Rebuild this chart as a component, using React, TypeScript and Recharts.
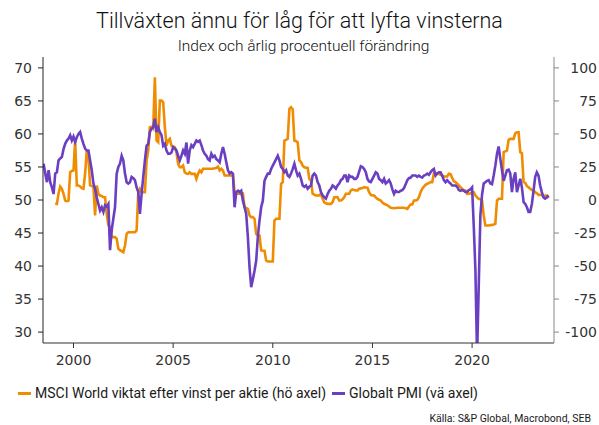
import React from 'react';
import { LineChart, Line, XAxis, YAxis } from 'recharts';

// Monthly observations, first month = July 1998
const START_YEAR = 1998.5;
const EPS_OFFSET = 7; // EPS series starts 7 months later (Feb 1999)

// Globalt PMI (left axis)
const pmi = [
  55.5, 54.0, 52.7, 54.5, 52.7, 51.9, 50.9, 54.0, 54.2, 56.0, 56.3, 56.5,
  57.7, 58.5, 59.0, 59.3, 59.8, 59.0, 59.6, 58.8, 59.5, 60.0, 60.3, 59.3,
  58.5, 57.8, 57.5, 57.5, 56.0, 54.5, 52.5, 51.7, 50.4, 49.4, 48.4, 48.9,
  48.2, 49.2, 49.0, 49.4, 42.4, 45.4, 47.2, 48.9, 54.0, 55.0, 55.5, 56.7,
  56.0, 54.0, 52.7, 52.5, 52.7, 53.5, 53.3, 53.0, 51.9, 51.2, 47.9, 50.9,
  53.5, 56.0, 58.2, 58.5, 60.3, 60.8, 61.0, 62.3, 60.3, 61.0, 60.3, 59.8,
  58.2, 58.5, 57.5, 57.0, 57.0, 57.2, 58.0, 57.8, 57.5, 56.7, 56.0, 56.7,
  57.5, 57.0, 58.7, 55.5, 57.5, 58.3, 58.0, 58.5, 59.0, 58.8, 59.0, 58.3,
  57.5, 57.0, 56.7, 56.2, 56.0, 57.0, 56.5, 56.7, 56.2, 56.0, 55.7, 57.0,
  58.0, 57.0, 55.7, 54.5, 54.0, 54.2, 54.0, 48.9, 51.2, 51.4, 51.2, 51.4,
  49.9, 48.9, 47.9, 44.4, 39.8, 36.8, 38.0, 39.3, 40.8, 44.4, 46.9, 48.9,
  49.9, 52.9, 53.5, 54.0, 54.0, 54.7, 55.2, 55.7, 56.2, 56.7, 56.0, 55.0,
  54.7, 54.2, 54.5, 53.7, 53.5, 54.0, 54.7, 55.5, 54.5, 53.7, 54.0, 53.2,
  52.2, 52.0, 52.2, 51.7, 52.0, 52.2, 53.7, 54.0, 53.7, 52.7, 52.2, 51.2,
  50.7, 50.4, 50.2, 50.9, 51.4, 51.7, 52.2, 52.0, 51.7, 52.2, 52.5, 53.0,
  53.2, 53.7, 53.7, 52.7, 53.7, 53.5, 53.5, 53.2, 53.2, 53.5, 54.3, 55.1,
  55.0, 54.7, 54.2, 53.2, 52.8, 52.7, 53.2, 53.7, 54.2, 54.0, 53.2, 53.0,
  52.7, 53.2, 52.5, 52.7, 53.0, 52.5, 51.6, 50.9, 51.4, 51.2, 51.2, 51.4,
  51.5, 51.8, 52.4, 53.0, 53.3, 53.4, 53.7, 53.7, 53.7, 53.5, 53.7, 53.5,
  53.4, 53.7, 53.8, 54.0, 53.8, 54.2, 54.5, 54.7, 53.7, 54.0, 54.2, 54.2,
  53.7, 53.0, 52.7, 53.0, 52.7, 52.5, 52.2, 52.2, 52.2, 52.0, 51.5, 51.4,
  51.5, 51.4, 51.2, 51.2, 51.5, 51.6, 51.9, 46.1, 39.4, 26.2, 37.0, 47.7,
  50.8, 52.5, 52.7, 52.9, 53.0, 52.5, 52.4, 53.7, 55.2, 57.0, 58.1, 56.2,
  54.5, 52.9, 53.7, 54.5, 54.6, 54.0, 51.2, 53.2, 54.2, 51.2, 52.2, 53.2,
  51.9, 49.7, 49.4, 48.9, 48.2, 48.2, 49.4, 51.4, 53.5, 54.2, 53.7, 52.2,
  51.2, 50.4, 50.2, 50.4, 50.7,
];

// MSCI World viktat efter vinst per aktie, årlig % (right axis)
const eps = [
  -2.5, -3.0, 5.0, 10.2, 8.5, 4.7, -0.4, -0.9, -0.4, 21.0, 22.0, 22.3,
  45.0, 11.0, 11.0, 10.2, 9.0, 8.5, 20.0, 37.4, 32.4, 11.0, 10.5, 10.2,
  -11.7, 11.0, 4.7, 3.4, 3.0, 2.1, 2.1, -10.4, -19.3, -20.6, -28.1, -28.1,
  -28.1, -29.3, -36.9, -38.0, -38.7, -39.5, -34.4, -25.6, -24.4, -24.4, -24.4, -24.4,
  -24.4, -23.1, 5.9, 8.5, 5.9, 5.9, 5.9, 29.9, 37.4, 55.1, 55.5, 54.0,
  92.9, 45.0, 43.7, 75.3, 75.3, 74.0, 55.1, 41.2, 45.0, 46.3, 41.2, 40.5,
  39.9, 36.1, 27.4, 24.8, 24.8, 26.1, 21.0, 20.0, 19.8, 21.0, 19.8, 19.8,
  19.8, 16.0, 19.8, 22.3, 21.0, 23.6, 23.6, 23.6, 23.6, 23.6, 23.6, 23.6,
  24.0, 24.3, 25.3, 22.3, 23.6, 22.3, 18.5, 18.5, 18.5, 18.5, 18.5, 18.5,
  5.9, 5.0, 4.7, 4.7, 4.3, 4.7, -5.4, -6.0, -6.7, -11.7, -13.0, -13.0,
  -14.2, -25.6, -26.9, -26.9, -38.2, -38.4, -38.4, -45.8, -46.5, -46.5, -46.5, -46.5,
  -15.5, -14.2, -14.2, -14.2, 12.3, 13.5, 45.0, 45.5, 46.3, 69.0, 70.2, 68.5,
  45.0, 44.5, 43.7, 29.9, 28.7, 26.0, 24.8, 24.5, 24.3, 16.0, 14.7, 4.7,
  4.0, 3.4, 3.4, 3.4, 4.7, 1.0, -1.7, -2.5, -2.9, -2.9, -2.9, -1.7,
  2.1, 2.1, 2.1, -0.4, -0.4, 0.5, 2.1, 4.7, 4.7, 4.7, 7.2, 8.0,
  7.5, 7.2, 7.2, 8.5, 8.8, 9.0, 9.7, 9.5, 9.3, 5.9, 3.9, 3.5,
  3.4, 2.0, 0.9, 0.2, -0.4, -2.0, -2.9, -3.4, -4.0, -4.9, -5.9, -6.0,
  -6.2, -6.0, -5.9, -5.9, -5.9, -5.9, -5.9, -6.3, -6.7, -4.9, -3.4, -3.4,
  -0.4, -0.4, 0.1, 2.1, 5.9, 8.5, 10.2, 11.5, 12.3, 12.8, 13.5, 13.5,
  20.3, 20.3, 20.3, 19.8, 19.0, 18.5, 17.8, 17.8, 17.8, 19.8, 19.5, 16.8,
  14.2, 13.5, 12.3, 11.0, 9.7, 8.5, 7.2, 7.2, 4.7, 4.8, 5.0, 5.9,
  5.9, 3.4, 2.0, 0.9, 0.5, -0.4, -11.7, -19.3, -19.3, -19.3, -19.0, -18.9,
  -18.5, -18.0, -0.4, 0.9, 0.9, 0.9, 36.2, 36.8, 37.4, 45.5, 46.3, 46.3,
  46.3, 50.5, 51.3, 51.3, 36.2, 35.4, 13.5, 13.0, 10.5, 9.7, 8.5, 7.5,
  7.2, 5.9, 5.0, 3.9, 3.9, 3.9, 2.6, 3.4, 3.4, 1.4,
];

const yearTicks = [2000, 2005, 2010, 2015, 2020];
const pmiTicks = [30, 35, 40, 45, 50, 55, 60, 65, 70];
const epsTicks = [-100, -75, -50, -25, 0, 25, 50, 75, 100];

const title = 'Tillväxten ännu för låg för att lyfta vinsterna';
const subtitle = 'Index och årlig procentuell förändring';
const epsName = 'MSCI World viktat efter vinst per aktie (hö axel)';
const pmiName = 'Globalt PMI (vä axel)';
const source = 'Källa: S&P Global, Macrobond, SEB';

const ORANGE = '#F08C00';
const PURPLE = '#6A3FC1';

const data = pmi.map((v, i) => {
  const j = i - EPS_OFFSET;
  return {
    t: START_YEAR + i / 12,
    pmi: v,
    eps: j >= 0 && j < eps.length ? eps[j] : null,
  };
});

const tickFont = { fontFamily: 'DejaVu Sans', fontSize: 14, fill: '#333' };
const textFont = 'Roboto, "Noto Sans", sans-serif';

export default function App() {
  return (
    <div
      style={{
        position: 'absolute',
        left: 0,
        top: 0,
        width: 599,
        height: 425,
        background: '#fff',
        overflow: 'hidden',
      }}
    >
      <div
        style={{
          position: 'absolute',
          left: 0,
          top: 8,
          width: 599,
          textAlign: 'center',
          fontFamily: textFont,
          fontSize: 21.5,
          fontWeight: 300,
          lineHeight: '26px',
          color: '#111',
        }}
      >
        {title}
      </div>
      <div
        style={{
          position: 'absolute',
          left: 4,
          top: 37,
          width: 599,
          textAlign: 'center',
          fontFamily: textFont,
          fontSize: 15.5,
          fontWeight: 300,
          lineHeight: '18px',
          color: '#111',
        }}
      >
        {subtitle}
      </div>
      <LineChart
        width={599}
        height={425}
        data={data}
        margin={{ top: 57, right: 0, bottom: 52, left: 0 }}
      >
        <XAxis
          dataKey="t"
          type="number"
          domain={[1998.47, 2024.11]}
          ticks={yearTicks}
          allowDataOverflow
          height={30}
          tickSize={5}
          tickMargin={7}
          stroke="#333"
          tick={tickFont}
        />
        <YAxis
          yAxisId="left"
          orientation="left"
          type="number"
          domain={[28.35, 71.65]}
          ticks={pmiTicks}
          allowDataOverflow
          width={43}
          tickSize={5}
          tickMargin={6}
          stroke="#222"
          tick={tickFont}
        />
        <YAxis
          yAxisId="right"
          orientation="right"
          type="number"
          domain={[-108.25, 108.25]}
          ticks={epsTicks}
          allowDataOverflow
          width={45}
          tickSize={5}
          tickMargin={38}
          stroke="#888"
          tick={{ ...tickFont, textAnchor: 'end' }}
        />
        <Line
          yAxisId="right"
          type="linear"
          dataKey="eps"
          stroke={ORANGE}
          strokeWidth={2.6}
          dot={false}
          activeDot={false}
          isAnimationActive={false}
        />
        <Line
          yAxisId="left"
          type="linear"
          dataKey="pmi"
          stroke={PURPLE}
          strokeWidth={2.6}
          dot={false}
          activeDot={false}
          isAnimationActive={false}
        />
      </LineChart>
      <div
        style={{
          position: 'absolute',
          left: 18,
          top: 385,
          display: 'flex',
          alignItems: 'center',
          fontFamily: textFont,
          fontSize: 14,
          lineHeight: '16px',
          color: '#1a1a1a',
          whiteSpace: 'nowrap',
        }}
      >
        <span style={{ display: 'inline-block', width: 13, height: 3, background: ORANGE, marginRight: 4 }} />
        <span style={{ marginRight: 6 }}>{epsName}</span>
        <span style={{ display: 'inline-block', width: 13, height: 3, background: PURPLE, marginRight: 4 }} />
        <span>{pmiName}</span>
      </div>
      <div
        style={{
          position: 'absolute',
          right: 8,
          top: 413,
          fontFamily: textFont,
          fontSize: 10.5,
          lineHeight: '12px',
          color: '#1a1a1a',
        }}
      >
        {source}
      </div>
    </div>
  );
}
